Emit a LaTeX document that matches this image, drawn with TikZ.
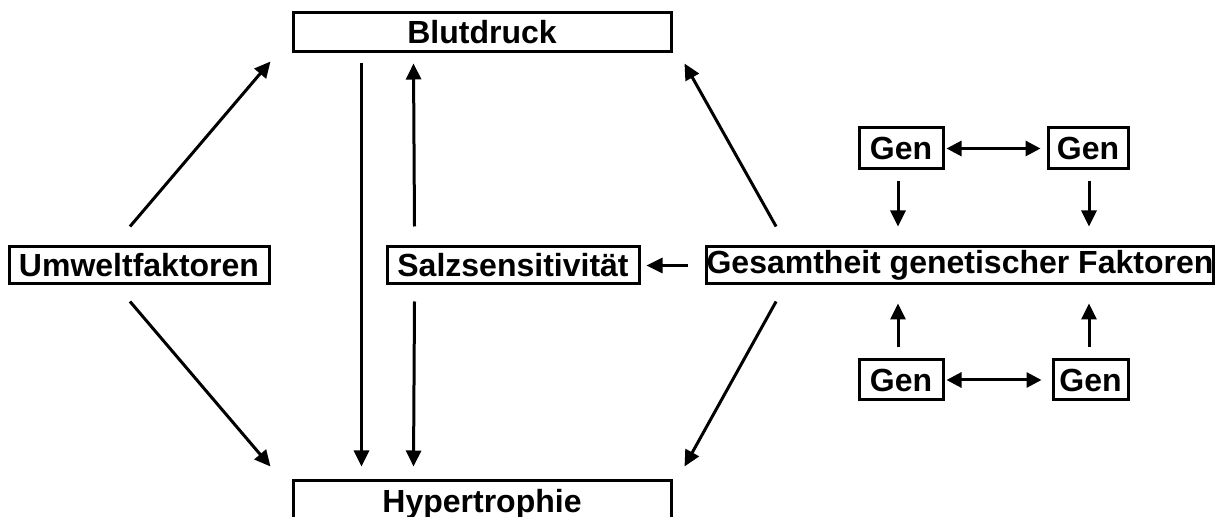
\documentclass[tikz,border=0pt]{standalone}
\usepackage{fontspec}
\setmainfont{Liberation Sans}
\usetikzlibrary{arrows.meta,calc}

\begin{document}
\begin{tikzpicture}[x=0.5pt,y=-0.5pt]
		\tikzstyle{every node}+=[inner sep=0pt, font=\fontsize{16pt}{18pt}\selectfont\bfseries]
		\tikzstyle{box}=[draw=black, line width=1.5pt, rectangle]
		\tikzstyle{arr}=[draw=black, line width=1.5pt, -{Triangle[length=8pt,width=7.5pt]}]
		\tikzstyle{darr}=[draw=black, line width=1.5pt, {Triangle[length=7.5pt,width=7.5pt]}-{Triangle[length=7.5pt,width=7.5pt]}]
		\useasboundingbox (0,0) rectangle (1219,517);
		\clip (0,0) rectangle (1219,517);
		% boxes
		\node [box, minimum width=189pt, minimum height=19.5pt] (blut) at (482,32.5) {Blutdruck};
		\node [box, minimum width=189pt, minimum height=24pt] (hyper) at (482,504) {Hypertrophie};
		\node [box, minimum width=130pt, minimum height=18.5pt] (umwelt) at (139,265.5) {Umweltfaktoren};
		\node [box, minimum width=126pt, minimum height=18.5pt] (salz) at (513,265.5) {Salzsensitivit\"at};
		\node [box, minimum width=253pt, minimum height=18.5pt] (gesamt) at (960,265.5) {Gesamtheit genetischer Faktoren};
		\node [box, minimum width=42pt, minimum height=20.5pt] (gen1) at (901,148.5) {Gen};
		\node [box, minimum width=40pt, minimum height=20.5pt] (gen2) at (1088,148.5) {Gen};
		\node [box, minimum width=42pt, minimum height=20pt] (gen3) at (901,380) {Gen};
		\node [box, minimum width=37.5pt, minimum height=20pt] (gen4) at (1090.5,380) {Gen};
		% left side
		\draw [arr] ($(umwelt.north)+(-9,-19)$) -- ($(blut.south west)+(-21,8)$);
		\draw [arr] ($(umwelt.south)+(-9,16)$) -- ($(hyper.north west)+(-21,-12)$);
		% middle
		\draw [arr] ($(blut.south west)+(70,10)$) -- ($(hyper.north west)+(70,-12)$);
		\draw [arr] ($(salz.north west)+(29,-19)$) -- ($(blut.south west)+(122,10)$);
		\draw [arr] ($(salz.south west)+(29,16)$) -- ($(hyper.north west)+(122,-12)$);
		\draw [arr] ($(gesamt.west)+(-17,0)$) -- ($(salz.east)+(6,0)$);
		% right side
		\draw [arr] ($(gesamt.north west)+(71,-19)$) -- ($(blut.south east)+(12,10)$);
		\draw [arr] ($(gesamt.south west)+(71,16)$) -- ($(hyper.north east)+(12,-12)$);
		% genes
		\draw [darr] ($(gen1.east)+(2,0)$) -- ($(gen2.west)+(-6,0)$);
		\draw [darr] ($(gen3.east)+(2,0)$) -- ($(gen4.west)+(-10,0)$);
		\draw [arr] ($(gen1.south)+(-3,11)$) -- ($(gen1.south |- gesamt.north)+(-3,-19)$);
		\draw [arr] ($(gen2.south)+(1,11)$) -- ($(gen2.south |- gesamt.north)+(1,-19)$);
		\draw [arr] ($(gen3.north)+(-3,-11)$) -- ($(gen3.north |- gesamt.south)+(-3,18)$);
		\draw [arr] ($(gen4.north)+(-1.5,-11)$) -- ($(gen4.north |- gesamt.south)+(-1.5,18)$);
\end{tikzpicture}
\end{document}
